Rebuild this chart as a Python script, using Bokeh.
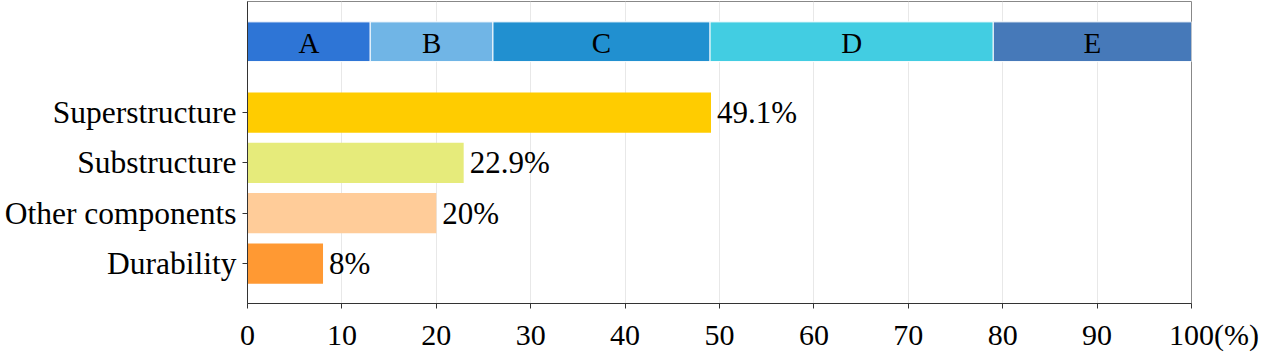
from bokeh.plotting import figure
from bokeh.models import ColumnDataSource, FixedTicker, Range1d
from bokeh.core.properties import value
from bokeh.embed import file_html
from bokeh.resources import INLINE

categories = ["Durability", "Other components", "Substructure", "Superstructure"]
shares = [8, 20, 22.9, 49.1]
share_labels = ["8%", "20%", "22.9%", "49.1%"]
bar_colors = ["#FF9933", "#FFCC99", "#E6EB7B", "#FFCC00"]

band_names = ["A", "B", "C", "D", "E"]
band_widths = [13, 13, 23, 30, 21]
band_colors = ["#2E75D6", "#70B5E6", "#2190D0", "#42CDE2", "#4679B9"]

x_ticks = [0, 10, 20, 30, 40, 50, 60, 70, 80, 90, 100]
unit_label = "(%)"

FONT = "Liberation Serif"

p = figure(width=1263, height=353, output_backend="svg", toolbar_location=None,
           x_range=Range1d(0, 100), y_range=Range1d(-0.795, 5.21),
           min_border_left=247, min_border_right=72, min_border_top=1, min_border_bottom=50)

ypos = list(range(len(categories)))
src = ColumnDataSource(dict(y=ypos, right=shares, color=bar_colors, label=share_labels))
p.hbar(y="y", left=0, right="right", height=0.8, fill_color="color", line_color=None, source=src)
p.text(x="right", y="y", text="label", source=src, x_offset=6, text_baseline="middle",
       text_font=value(FONT), text_font_size="31px", text_color="black")

lefts, rights = [], []
acc = 0
for w in band_widths:
    lefts.append(acc)
    acc += w
    rights.append(acc)
mids = [(l + r) / 2 for l, r in zip(lefts, rights)]
band_y = 4.41
bsrc = ColumnDataSource(dict(left=lefts, right=rights, color=band_colors, mid=mids,
                             name=band_names, y=[band_y] * len(band_names)))
p.hbar(y="y", left="left", right="right", height=0.79, fill_color="color",
       line_color="white", line_width=1, source=bsrc)
p.text(x="mid", y="y", text="name", source=bsrc, text_align="center", text_baseline="middle",
       y_offset=1, text_font=value(FONT), text_font_size="29px", text_color="black")

p.xaxis.ticker = FixedTicker(ticks=x_ticks)
# "100" stays centred on its tick; the unit follows it (figure spaces balance the width)
p.xaxis.major_label_overrides = {100: "\u2007\u2007\u2007100" + unit_label}
p.yaxis.ticker = FixedTicker(ticks=ypos)
p.yaxis.major_label_overrides = {i: c for i, c in enumerate(categories)}

for ax in (p.xaxis, p.yaxis):
    ax.major_label_text_font = FONT
    ax.major_label_text_color = "black"
    ax.axis_line_color = "#333333"
    ax.major_tick_line_color = "#333333"
    ax.major_tick_out = 5
    ax.major_tick_in = 0
    ax.minor_tick_line_color = None
p.xaxis.major_label_text_font_size = "30px"
p.yaxis.major_label_text_font_size = "31.5px"
p.xaxis.major_label_standoff = 9
p.yaxis.major_label_standoff = 6

p.xgrid.grid_line_color = "#e8e8e8"
p.ygrid.grid_line_color = None
p.outline_line_color = "#888888"
p.outline_line_width = 1
p.background_fill_color = "white"
p.border_fill_color = "white"

open("out.html", "w").write(file_html(p, INLINE))
